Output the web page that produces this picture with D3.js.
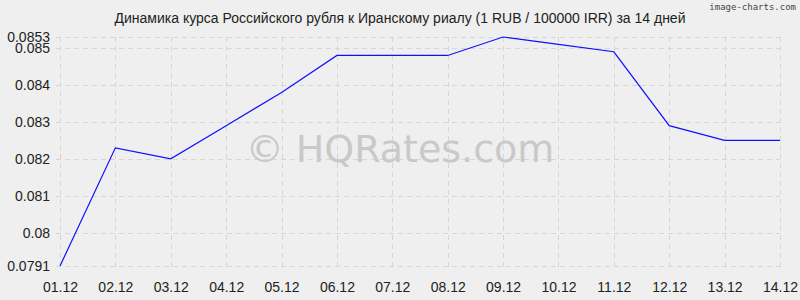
<!DOCTYPE html>
<html>
<head>
<meta charset="utf-8">
<script src="https://cdn.jsdelivr.net/npm/d3@7"></script>
<style>
    body { margin: 0; background: #efefef; }
    svg { display: block; }
</style>
</head>
<body>
<div class="svg-container"></div>
<script>
const dates = ['01.12', '02.12', '03.12', '04.12', '05.12', '06.12', '07.12',
    '08.12', '09.12', '10.12', '11.12', '12.12', '13.12', '14.12'];
const rates = [0.0791, 0.0823, 0.0820, 0.0829, 0.0838, 0.0848, 0.0848,
    0.0848, 0.0853, 0.0851, 0.0849, 0.0829, 0.0825, 0.0825];
const yTicks = [0.0791, 0.08, 0.081, 0.082, 0.083, 0.084, 0.085, 0.0853];

const width = 800;
const height = 300;
const margin = { top: 37, right: 20, bottom: 34, left: 60 };

const svg = d3.select('.svg-container').append('svg')
    .attr('width', width)
    .attr('height', height);

svg.append('rect')
    .attr('width', width)
    .attr('height', height)
    .attr('fill', '#efefef');

const xScale = d3.scalePoint()
    .domain(dates)
    .range([margin.left, width - margin.right]);

const yScale = d3.scaleLinear()
    .domain([d3.min(yTicks), d3.max(yTicks)])
    .range([height - margin.bottom, margin.top]);

// grid
const grid = svg.append('g')
    .attr('stroke', '#d6d6d6')
    .attr('stroke-dasharray', '5,4')
    .attr('shape-rendering', 'crispEdges');

grid.selectAll('.vline')
    .data(dates)
    .enter().append('line')
    .attr('x1', d => Math.round(xScale(d)) + 0.5)
    .attr('x2', d => Math.round(xScale(d)) + 0.5)
    .attr('y1', margin.top)
    .attr('y2', height - margin.bottom + 4);

grid.selectAll('.hline')
    .data(yTicks)
    .enter().append('line')
    .attr('x1', margin.left - 4)
    .attr('x2', width - margin.right)
    .attr('y1', d => Math.round(yScale(d)) + 0.5)
    .attr('y2', d => Math.round(yScale(d)) + 0.5);

// watermark
svg.append('text')
    .attr('x', 400)
    .attr('y', 162)
    .attr('text-anchor', 'middle')
    .style('font-family', 'DejaVu Sans, sans-serif')
    .style('font-size', '38px')
    .attr('fill', '#c9c9c9')
    .text('© HQRates.com');

// axes
const xAxis = svg.append('g')
    .attr('transform', `translate(0, ${height - margin.bottom})`)
    .call(d3.axisBottom(xScale).tickSize(0).tickPadding(16));

const yAxis = svg.append('g')
    .attr('transform', `translate(${margin.left}, 0)`)
    .call(d3.axisLeft(yScale).tickValues(yTicks).tickSize(0).tickPadding(10)
        .tickFormat(d => String(+d.toFixed(4))));

[xAxis, yAxis].forEach(ax => {
    ax.select('.domain').remove();
    ax.selectAll('text')
        .style('font-family', 'Liberation Sans, Arial, sans-serif')
        .style('font-size', '14px')
        .attr('fill', '#222');
});

// line
const line = d3.line()
    .x((d, i) => xScale(dates[i]))
    .y(d => yScale(d));

svg.append('path')
    .datum(rates)
    .attr('fill', 'none')
    .attr('stroke', '#1010ff')
    .attr('stroke-width', 1.2)
    .attr('d', line);

// title
svg.append('text')
    .attr('x', 400)
    .attr('y', 23)
    .attr('text-anchor', 'middle')
    .style('font-family', 'Liberation Sans, Arial, sans-serif')
    .style('font-size', '14px')
    .attr('fill', '#222')
    .text('Динамика курса Российского рубля к Иранскому риалу (1 RUB / 100000 IRR) за 14 дней');

svg.append('text')
    .attr('x', 796)
    .attr('y', 10)
    .attr('text-anchor', 'end')
    .style('font-family', 'DejaVu Sans Mono, monospace')
    .style('font-size', '9px')
    .attr('fill', '#444')
    .text('image-charts.com');
</script>
</body>
</html>
